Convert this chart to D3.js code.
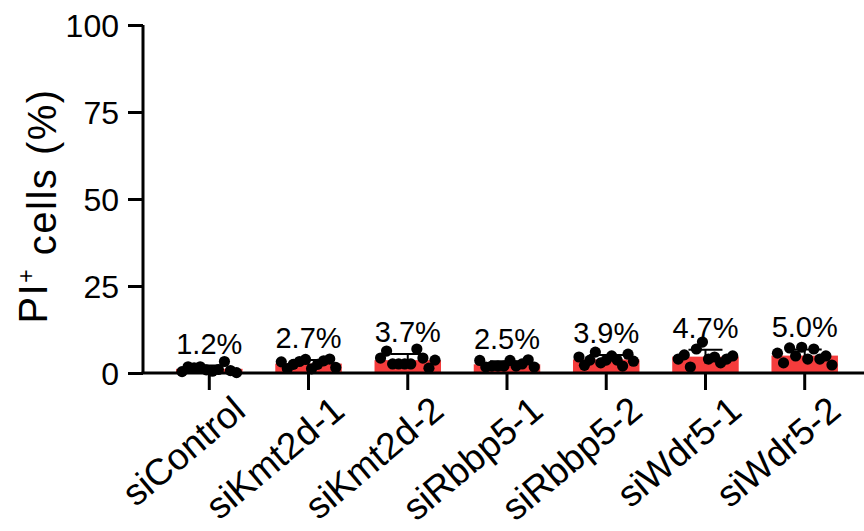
<!DOCTYPE html>
<html>
<head>
<meta charset="utf-8">
<script src="https://cdn.jsdelivr.net/npm/d3@7"></script>
<style>
  body { margin: 0; background: #fff; }
  text { font-family: "Liberation Sans", Arial, sans-serif; fill: #000; }
</style>
</head>
<body>
<svg id="chart"></svg>
<script>
// groups on the x axis
const groups = ["siControl", "siKmt2d-1", "siKmt2d-2", "siRbbp5-1", "siRbbp5-2", "siWdr5-1", "siWdr5-2"];
// bar heights (mean, %)
const means = [1.2, 2.7, 3.7, 2.5, 3.9, 4.7, 5.0];
const meanLabels = ["1.2%", "2.7%", "3.7%", "2.5%", "3.9%", "4.7%", "5.0%"];
const dotsControl = [0.4, 1.8, 1.5, 1.8, 0.9, 0.5, 1.0, 3.3, 0.7, 0.1];
const dotsKmt2d1 = [3.2, 1.3, 2.5, 3.3, 3.9, 1.2, 2.5, 3.5, 4.0, 1.6];
const dotsKmt2d2 = [4.3, 6.3, 2.6, 2.6, 2.6, 2.6, 6.9, 4.3, 1.4, 3.7];
const dotsRbbp51 = [3.6, 1.7, 2.0, 2.0, 2.0, 3.6, 2.0, 2.6, 3.8, 1.7];
const dotsRbbp52 = [4.6, 2.2, 3.7, 6.0, 2.9, 3.7, 4.9, 3.7, 2.0, 5.4, 3.4];
const dotsWdr51 = [4.0, 5.2, 1.7, 6.9, 8.9, 4.0, 4.6, 2.9, 4.0, 4.9];
const dotsWdr52 = [5.7, 2.9, 7.2, 4.9, 7.4, 4.0, 6.9, 4.0, 4.9, 2.3];
const yTicks = [0, 25, 50, 75, 100];

const dots = [dotsControl, dotsKmt2d1, dotsKmt2d2, dotsRbbp51, dotsRbbp52, dotsWdr51, dotsWdr52];

const width = 864, height = 531;
const svg = d3.select("#chart").attr("width", width).attr("height", height);

const x = d3.scaleBand()
    .domain(groups)
    .range([143, 871])
    .paddingInner(0.33)
    .paddingOuter(0.333);

const y = d3.scaleLinear()
    .domain([0, 100])
    .range([373, 25]);

const bw = x.bandwidth();

// bars
svg.append("g")
    .selectAll("rect")
    .data(groups)
    .enter().append("rect")
    .attr("x", d => x(d))
    .attr("width", bw)
    .attr("y", (d, i) => y(means[i]))
    .attr("height", (d, i) => y(0) - y(means[i]))
    .attr("fill", "#f53c3c");

// error bars (mean + SD)
const err = svg.append("g");
groups.forEach(function (g, i) {
    const sd = d3.deviation(dots[i]);
    const cx = x(g) + bw / 2;
    err.append("line")
        .attr("x1", cx).attr("x2", cx)
        .attr("y1", y(means[i] - sd)).attr("y2", y(means[i] + sd))
        .attr("stroke", "#000").attr("stroke-width", 2);
    err.append("line")
        .attr("x1", cx - 17).attr("x2", cx + 17)
        .attr("y1", y(means[i] + sd)).attr("y2", y(means[i] + sd))
        .attr("stroke", "#000").attr("stroke-width", 2);
});

// dots
const dotG = svg.append("g");
groups.forEach(function (g, i) {
    const n = dots[i].length;
    const spread = d3.scaleLinear().domain([0, n - 1]).range([x(g) + 6, x(g) + bw - 6]);
    dotG.selectAll(null)
        .data(dots[i])
        .enter().append("circle")
        .attr("cx", (d, j) => spread(j))
        .attr("cy", d => y(d))
        .attr("r", 5.6)
        .attr("fill", "#000");
});

// mean labels
svg.append("g")
    .selectAll("text")
    .data(groups)
    .enter().append("text")
    .attr("x", d => x(d) + bw / 2)
    .attr("y", (d, i) => y(means[i] + d3.deviation(dots[i])) - 12)
    .attr("text-anchor", "middle")
    .style("font-size", "29px")
    .text((d, i) => meanLabels[i]);

// y axis
const yAxis = svg.append("g")
    .attr("transform", "translate(143,0)")
    .call(d3.axisLeft(y).tickValues(yTicks).tickSize(15).tickPadding(9));
yAxis.select(".domain").attr("d", "M0," + y(100) + "V" + y(0));
yAxis.selectAll("line").attr("stroke-width", 3);
yAxis.selectAll("path").attr("stroke-width", 3);
yAxis.selectAll("text").style("font-size", "32px").attr("dy", "0.36em");

// x axis
const xAxis = svg.append("g")
    .attr("transform", "translate(0," + y(0) + ")")
    .call(d3.axisBottom(x).tickSize(17));
xAxis.select(".domain").attr("d", "M141.5,0H" + width);
xAxis.selectAll("line").attr("stroke-width", 3);
xAxis.selectAll("path").attr("stroke-width", 3);
xAxis.selectAll("text")
    .style("font-size", "37px")
    .attr("text-anchor", "end")
    .attr("x", 0).attr("y", 0)
    .attr("dy", "0.35em")
    .attr("transform", "translate(30,31) rotate(-40)");

// y axis title
const yt = svg.append("text")
    .attr("transform", "translate(47,206) rotate(-90)")
    .attr("text-anchor", "middle")
    .style("font-size", "40px")
    .style("letter-spacing", "1.5px");
yt.append("tspan").text("PI");
yt.append("tspan").attr("dy", "-0.55em").style("font-size", "23px").text("+");
yt.append("tspan").attr("dy", "0.55em").text(" cells (%)");
</script>
</body>
</html>
